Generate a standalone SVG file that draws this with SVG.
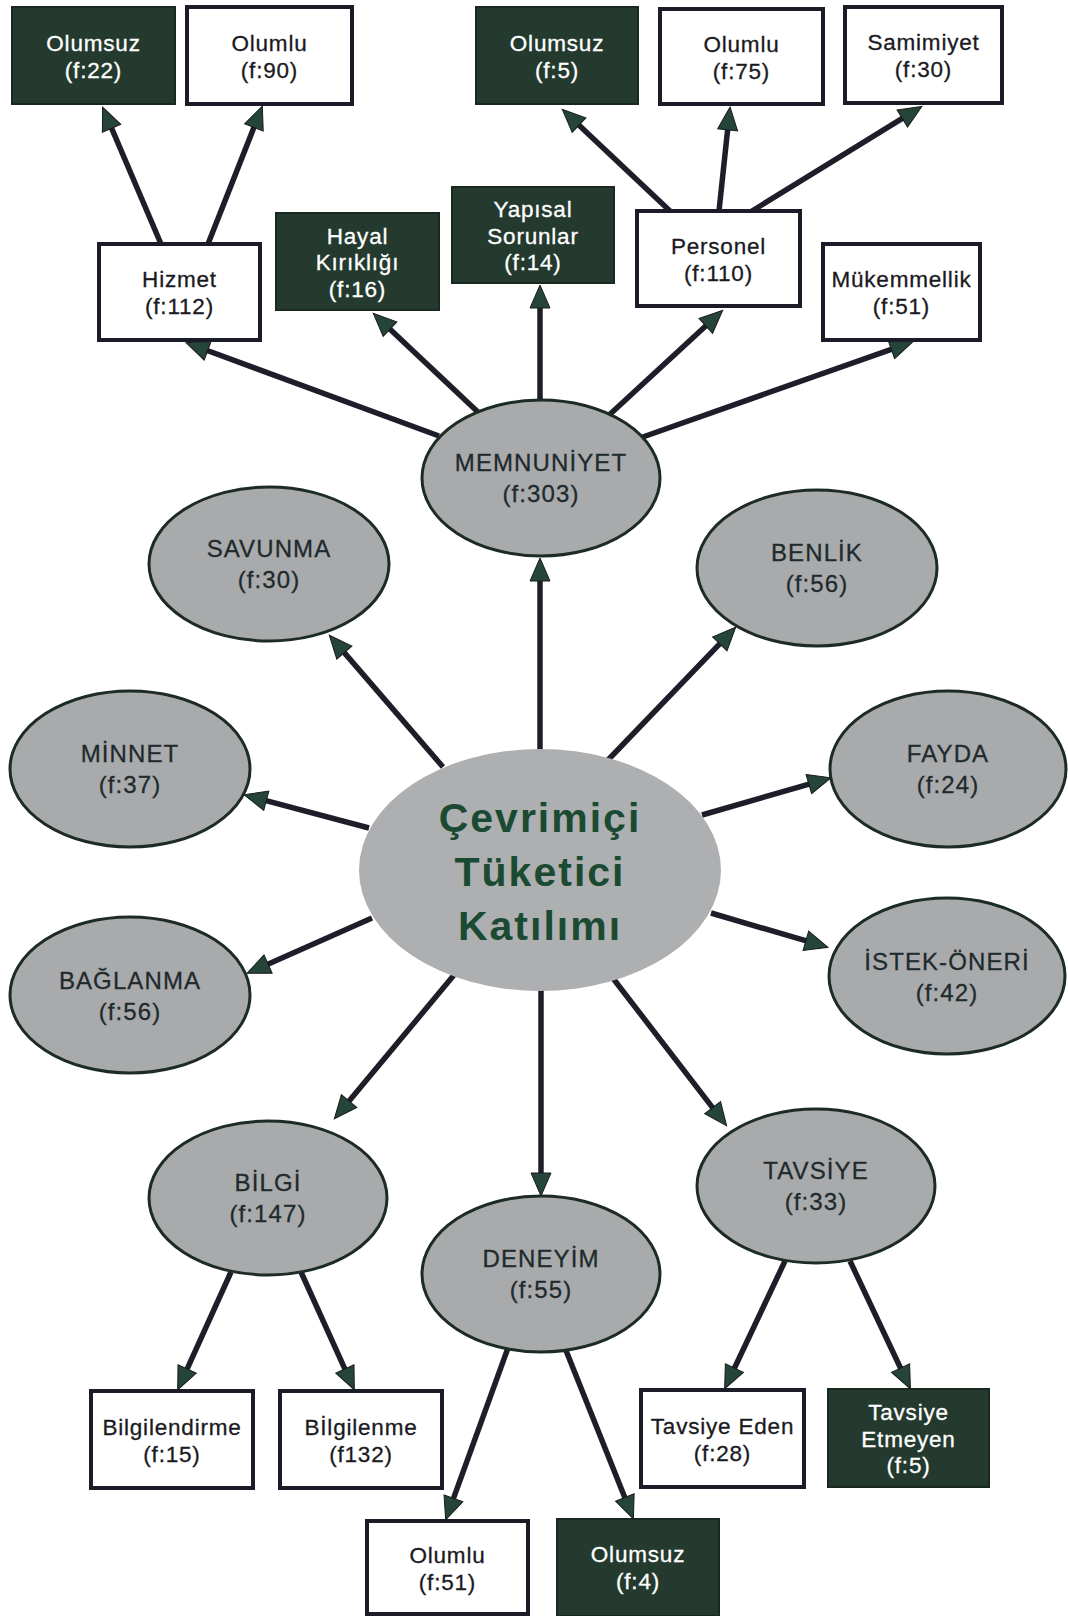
<svg xmlns="http://www.w3.org/2000/svg" width="1068" height="1616" viewBox="0 0 1068 1616">
<style>
.bw{fill:#ffffff;stroke:#1c1c28;stroke-width:4}
.bd{fill:#243a2e;stroke:#1a2820;stroke-width:2}
.el{fill:#a9aaac;stroke:#1d2b25;stroke-width:3}
.tw{font-family:"Liberation Sans",Arial,sans-serif;font-size:22.5px;letter-spacing:0.8px;fill:#1a1a22;stroke:#1a1a22;stroke-width:0.3;text-anchor:middle}
.td{font-family:"Liberation Sans",Arial,sans-serif;font-size:22.5px;letter-spacing:0.8px;fill:#ffffff;stroke:#ffffff;stroke-width:0.3;text-anchor:middle}
.te{font-family:"Liberation Sans",Arial,sans-serif;font-size:24px;letter-spacing:1.1px;fill:#1e2a2c;stroke:#1e2a2c;stroke-width:0.3;text-anchor:middle}
.tc{font-family:"Liberation Sans",Arial,sans-serif;font-size:41px;font-weight:bold;letter-spacing:2px;fill:#1b4a32;text-anchor:middle}
.cn line{stroke:#1e1e2a;stroke-width:5.5;marker-end:url(#ah)}
</style>
<defs>
<marker id="ah" markerUnits="userSpaceOnUse" viewBox="0 0 25 22" markerWidth="25" markerHeight="22" refX="13" refY="11" orient="auto" overflow="visible">
<path d="M1,1 L24,11 L1,21 Z" fill="#25443a" stroke="#1a1a1a" stroke-width="1"/>
</marker>
</defs>
<rect width="1068" height="1616" fill="#ffffff"/>
<g id="connectors" class="cn">
<line x1="439" y1="436" x2="196.4" y2="346.5"/>
<line x1="480" y1="414" x2="381.3" y2="320.9"/>
<line x1="540" y1="402" x2="540" y2="296"/>
<line x1="607" y1="417" x2="714.6" y2="317.8"/>
<line x1="640" y1="438" x2="902.6" y2="345.3"/>
<line x1="161" y1="244" x2="106.9" y2="117.2"/>
<line x1="208" y1="244" x2="258.3" y2="116.3"/>
<line x1="670" y1="211" x2="570.3" y2="116.9"/>
<line x1="719" y1="211" x2="728.9" y2="117.9"/>
<line x1="752" y1="211" x2="912.5" y2="112.2"/>
<line x1="540" y1="752" x2="540" y2="569"/>
<line x1="443" y1="767" x2="336.5" y2="643.6"/>
<line x1="608" y1="760" x2="728.1" y2="635.2"/>
<line x1="369" y1="828" x2="254.7" y2="797.6"/>
<line x1="702" y1="815" x2="820.4" y2="780.8"/>
<line x1="372" y1="918" x2="257.1" y2="968.9"/>
<line x1="711" y1="913" x2="817.4" y2="944.2"/>
<line x1="454" y1="975" x2="341.4" y2="1110.3"/>
<line x1="541" y1="988" x2="541" y2="1185"/>
<line x1="612" y1="977" x2="719.9" y2="1117.1"/>
<line x1="231" y1="1272" x2="182.2" y2="1379.9"/>
<line x1="301" y1="1272" x2="349.8" y2="1379.9"/>
<line x1="508" y1="1348" x2="449.4" y2="1509.6"/>
<line x1="565" y1="1348" x2="629.3" y2="1508.7"/>
<line x1="785" y1="1261" x2="729.3" y2="1379"/>
<line x1="850" y1="1261" x2="905.7" y2="1379"/>
</g>
<g id="n-olumsuz22"><rect class="bd" x="12" y="7" width="163" height="97"/><text class="td" x="93.5" y="50.5">Olumsuz</text><text class="td" x="93.5" y="77.5">(f:22)</text></g>
<g id="n-olumlu90"><rect class="bw" x="187" y="7" width="165" height="97"/><text class="tw" x="269.5" y="50.5">Olumlu</text><text class="tw" x="269.5" y="77.5">(f:90)</text></g>
<g id="n-olumsuz5"><rect class="bd" x="476" y="7" width="162" height="97"/><text class="td" x="557" y="50.5">Olumsuz</text><text class="td" x="557" y="77.5">(f:5)</text></g>
<g id="n-olumlu75"><rect class="bw" x="660" y="9" width="163" height="95"/><text class="tw" x="741.5" y="51.5">Olumlu</text><text class="tw" x="741.5" y="78.5">(f:75)</text></g>
<g id="n-samimiyet"><rect class="bw" x="845" y="7" width="157" height="96"/><text class="tw" x="923.5" y="50">Samimiyet</text><text class="tw" x="923.5" y="77">(f:30)</text></g>
<g id="n-hizmet"><rect class="bw" x="99" y="244" width="161" height="96"/><text class="tw" x="179.5" y="287">Hizmet</text><text class="tw" x="179.5" y="314">(f:112)</text></g>
<g id="n-hayal"><rect class="bd" x="276" y="213" width="163" height="97"/><text class="td" x="357.5" y="243.5">Hayal</text><text class="td" x="357.5" y="270">Kırıklığı</text><text class="td" x="357.5" y="296.5">(f:16)</text></g>
<g id="n-yapisal"><rect class="bd" x="452" y="187" width="162" height="96"/><text class="td" x="533" y="217">Yapısal</text><text class="td" x="533" y="243.5">Sorunlar</text><text class="td" x="533" y="270">(f:14)</text></g>
<g id="n-personel"><rect class="bw" x="637" y="211" width="163" height="95"/><text class="tw" x="718.5" y="253.5">Personel</text><text class="tw" x="718.5" y="280.5">(f:110)</text></g>
<g id="n-mukemmellik"><rect class="bw" x="823" y="244" width="157" height="96"/><text class="tw" x="901.5" y="287">Mükemmellik</text><text class="tw" x="901.5" y="314">(f:51)</text></g>
<g id="n-memnuniyet"><ellipse class="el" cx="541" cy="478" rx="119" ry="78"/><text class="te" x="541" y="471">MEMNUNİYET</text><text class="te" x="541" y="502">(f:303)</text></g>
<g id="n-savunma"><ellipse class="el" cx="269" cy="564" rx="120" ry="77"/><text class="te" x="269" y="557">SAVUNMA</text><text class="te" x="269" y="588">(f:30)</text></g>
<g id="n-benlik"><ellipse class="el" cx="817" cy="568" rx="120" ry="78"/><text class="te" x="817" y="561">BENLİK</text><text class="te" x="817" y="592">(f:56)</text></g>
<g id="n-minnet"><ellipse class="el" cx="130" cy="769" rx="120" ry="78"/><text class="te" x="130" y="762">MİNNET</text><text class="te" x="130" y="793">(f:37)</text></g>
<g id="n-fayda"><ellipse class="el" cx="948" cy="769" rx="118" ry="78"/><text class="te" x="948" y="762">FAYDA</text><text class="te" x="948" y="793">(f:24)</text></g>
<g id="n-center"><ellipse cx="540" cy="870" rx="181" ry="121" fill="#aeafb1"/><text class="tc" x="540" y="832">Çevrimiçi</text><text class="tc" x="540" y="886">Tüketici</text><text class="tc" x="540" y="940">Katılımı</text></g>
<g id="n-baglanma"><ellipse class="el" cx="130" cy="995" rx="120" ry="78"/><text class="te" x="130" y="989">BAĞLANMA</text><text class="te" x="130" y="1020">(f:56)</text></g>
<g id="n-istek"><ellipse class="el" cx="947" cy="976" rx="118" ry="78"/><text class="te" x="947" y="970">İSTEK-ÖNERİ</text><text class="te" x="947" y="1001">(f:42)</text></g>
<g id="n-bilgi"><ellipse class="el" cx="268" cy="1198" rx="119" ry="77"/><text class="te" x="268" y="1191">BİLGİ</text><text class="te" x="268" y="1222">(f:147)</text></g>
<g id="n-tavsiye"><ellipse class="el" cx="816" cy="1186" rx="119" ry="77"/><text class="te" x="816" y="1179">TAVSİYE</text><text class="te" x="816" y="1210">(f:33)</text></g>
<g id="n-deneyim"><ellipse class="el" cx="541" cy="1274" rx="119" ry="78"/><text class="te" x="541" y="1267">DENEYİM</text><text class="te" x="541" y="1298">(f:55)</text></g>
<g id="n-bilgilendirme"><rect class="bw" x="91" y="1391" width="162" height="97"/><text class="tw" x="172" y="1434.5">Bilgilendirme</text><text class="tw" x="172" y="1461.5">(f:15)</text></g>
<g id="n-bilgilenme"><rect class="bw" x="280" y="1391" width="162" height="97"/><text class="tw" x="361" y="1434.5">Bİlgilenme</text><text class="tw" x="361" y="1461.5">(f132)</text></g>
<g id="n-tavsiye-eden"><rect class="bw" x="641" y="1390" width="163" height="97"/><text class="tw" x="722.5" y="1433.5">Tavsiye Eden</text><text class="tw" x="722.5" y="1460.5">(f:28)</text></g>
<g id="n-tavsiye-etmeyen"><rect class="bd" x="828" y="1389" width="161" height="98"/><text class="td" x="908.5" y="1420">Tavsiye</text><text class="td" x="908.5" y="1446.5">Etmeyen</text><text class="td" x="908.5" y="1473">(f:5)</text></g>
<g id="n-olumlu51"><rect class="bw" x="367" y="1521" width="161" height="93"/><text class="tw" x="447.5" y="1563">Olumlu</text><text class="tw" x="447.5" y="1590">(f:51)</text></g>
<g id="n-olumsuz4"><rect class="bd" x="557" y="1519" width="162" height="97"/><text class="td" x="638" y="1562">Olumsuz</text><text class="td" x="638" y="1589">(f:4)</text></g>
</svg>
